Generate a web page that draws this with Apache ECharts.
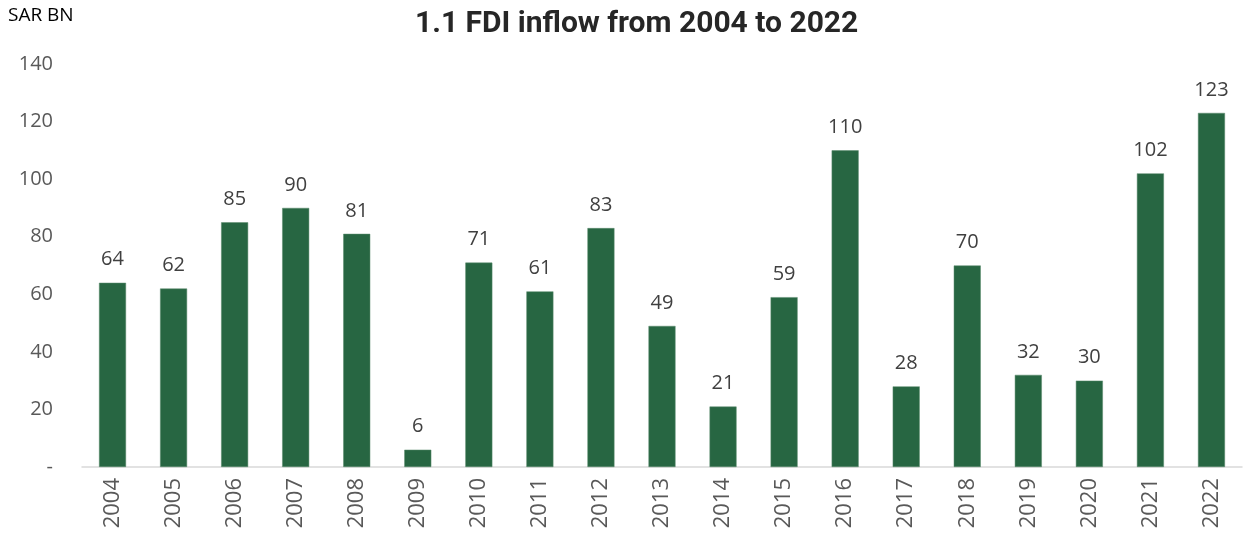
<!DOCTYPE html>
<html>
<head>
<meta charset="utf-8">
<script src="https://cdn.jsdelivr.net/npm/echarts@6/dist/echarts.min.js"></script>
<style>html,body{margin:0;padding:0;background:#fff}#c{width:1243px;height:534px}</style>
</head>
<body>
<div id="c"></div>
<script>
const categories = ['2004','2005','2006','2007','2008','2009','2010','2011','2012','2013','2014','2015','2016','2017','2018','2019','2020','2021','2022'];
const fdiValues = [64,62,85,90,81,6,71,61,83,49,21,59,110,28,70,32,30,102,123];
const yTicks = [0,20,40,60,80,100,120,140];
const titleText = '1.1 FDI inflow from 2004 to 2022';
const unitText = 'SAR BN';

const chart = echarts.init(document.getElementById('c'), null, {renderer:'canvas'});
chart.setOption({
  backgroundColor:'#ffffff',
  animation:false,
  title:{
    text:titleText,
    left:410,
    top:4,
    textStyle:{fontFamily:'Roboto',fontWeight:'bold',fontSize:30,color:'#262626'}
  },
  graphic:[{
    type:'text',left:8,top:6,
    style:{text:unitText,fontFamily:'Open Sans',fontSize:19,fill:'#000000'}
  }],
  grid:{left:82,right:1,top:64,bottom:67,containLabel:false},
  xAxis:{
    type:'category',
    data:categories,
    axisLine:{show:true,lineStyle:{color:'#d9d9d9',width:1.5}},
    axisTick:{show:false},
    axisLabel:{rotate:90,fontFamily:'Open Sans',fontSize:22,color:'#595959',margin:11}
  },
  yAxis:{
    type:'value',
    min:yTicks[0],max:yTicks[yTicks.length-1],interval:20,
    splitLine:{show:false},
    axisLine:{show:false},
    axisTick:{show:false},
    axisLabel:{fontFamily:'Open Sans',fontSize:20,color:'#595959',margin:29,
      formatter:v=>v===0?'-':String(v)}
  },
  series:[{
    type:'bar',
    data:fdiValues,
    barWidth:27,
    itemStyle:{color:'#276642',borderColor:'#5a8a6c',borderWidth:0.5},
    label:{show:true,position:'top',distance:13,fontFamily:'Open Sans',fontSize:20,color:'#404040'}
  }]
});
</script>
</body>
</html>
